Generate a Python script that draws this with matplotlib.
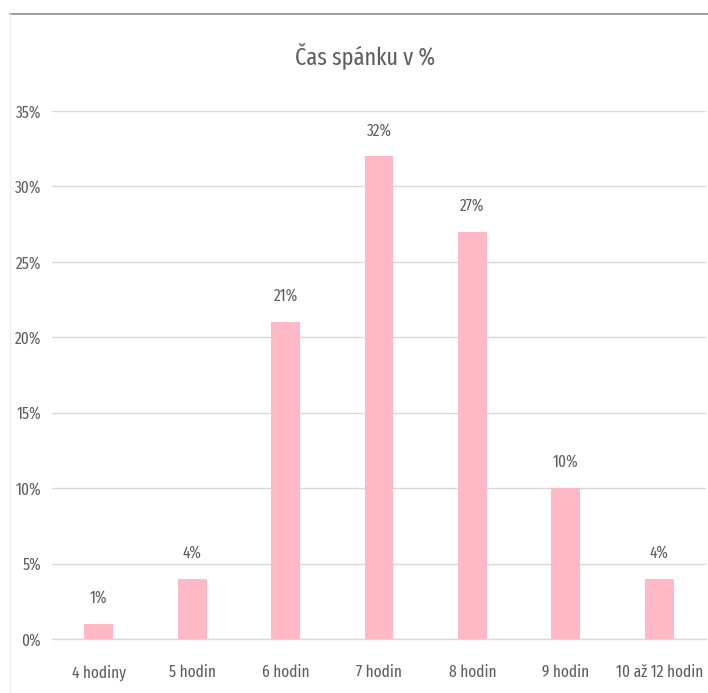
import matplotlib
matplotlib.use("Agg")
import matplotlib.pyplot as plt
from matplotlib.ticker import FuncFormatter
from matplotlib.lines import Line2D

plt.rcParams['font.family'] = ['Fira Sans Extra Condensed', 'DejaVu Sans']
plt.rcParams['font.weight'] = 'normal'

# Sleep duration categories and share of respondents
categories = ["4 hodiny", "5 hodin", "6 hodin", "7 hodin", "8 hodin", "9 hodin", "10 až 12 hodin"]
shares = [0.01, 0.04, 0.21, 0.32, 0.27, 0.10, 0.04]
y_ticks = [0.00, 0.05, 0.10, 0.15, 0.20, 0.25, 0.30, 0.35]
title = "Čas spánku v %"

TEXT = "#5e5e5e"
GRID = "#d9d9d9"
BAR = "#ffb8c6"

W, H = 708, 693
fig = plt.figure(figsize=(W / 100, H / 100), dpi=100)

# chart frame: top edge and faint left edge
fig.add_artist(Line2D([10 / W, 1.0], [1 - 14 / H, 1 - 14 / H], color="#8c8c8c", lw=1.2))
fig.add_artist(Line2D([10 / W, 10 / W], [0.0, 1 - 14 / H], color="#ececec", lw=1.0))

ax = fig.add_axes([52 / W, 54 / H, 654 / W, 528 / H])
x = range(len(categories))
ax.bar(x, shares, width=0.31, color=BAR, zorder=2)

ax.set_xlim(-0.5, len(categories) - 0.5)
ax.set_ylim(0, 0.35)
ax.set_yticks(y_ticks)
ax.yaxis.set_major_formatter(FuncFormatter(lambda v, _: f"{round(v * 100)}%"))
ax.set_xticks(list(x))
ax.set_xticklabels(categories)
ax.grid(axis="y", color=GRID, lw=1.0, zorder=0)
ax.axhline(0, color=GRID, lw=1.0, zorder=1, clip_on=False)
ax.tick_params(axis="both", length=0, colors=TEXT, labelsize=12)
ax.tick_params(axis="x", pad=18)
ax.tick_params(axis="y", pad=8)
for s in ax.spines.values():
    s.set_visible(False)

for xi, v in zip(x, shares):
    ax.annotate(f"{round(v * 100)}%", (xi, v), xytext=(0, 18.5), textcoords="offset points",
                ha="center", va="center", color=TEXT, fontsize=12)

fig.text(365 / W, 1 - 56 / H, title, ha="center", va="center",
         color=TEXT, fontsize=17.5)

fig.savefig("out.png", dpi=100)
